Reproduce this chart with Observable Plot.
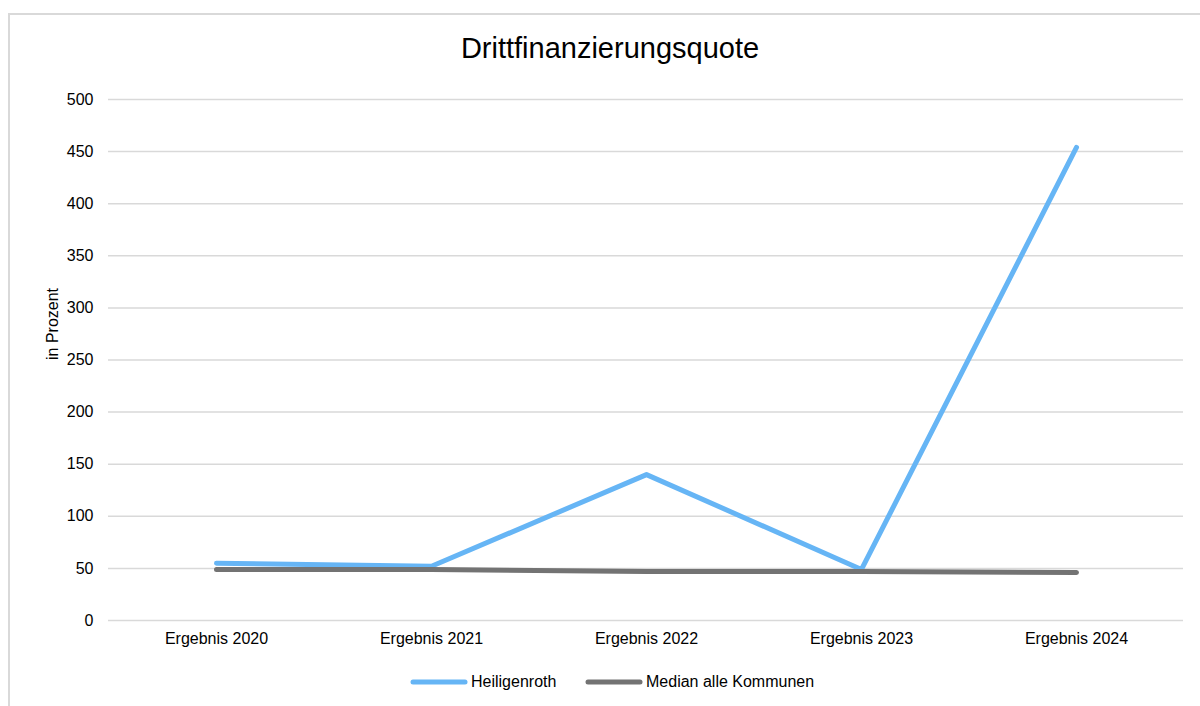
<!DOCTYPE html>
<html>
<head>
<meta charset="utf-8">
<script src="https://cdn.jsdelivr.net/npm/d3@7"></script>
<script src="https://cdn.jsdelivr.net/npm/@observablehq/plot@0.6"></script>
<style>
  html, body { margin: 0; padding: 0; background: #fff; width: 1200px; height: 706px; overflow: hidden; font-family: "Liberation Sans", Arial, sans-serif; }
  #frame { position: absolute; left: 8px; top: 13px; width: 1300px; height: 800px; border-top: 2px solid #d9d9d9; border-left: 2px solid #d9d9d9; }
  #title { position: absolute; left: 0; width: 1220px; top: 32px; text-align: center; font-size: 29px; color: #000; }
  #chart { position: absolute; left: 0; top: 80px; }
  .leg { position: absolute; top: 672px; height: 20px; display: flex; align-items: center; font-size: 16px; color: #000; }
  .leg svg { margin-right: 3px; }
</style>
</head>
<body>
<div id="frame"></div>
<div id="title">Drittfinanzierungsquote</div>
<div id="chart"></div>
<div class="leg" style="left:410px"><svg width="58" height="10"><line x1="3" y1="5" x2="55" y2="5" stroke="#66b5f5" stroke-width="5" stroke-linecap="round"/></svg>Heiligenroth</div>
<div class="leg" style="left:585px"><svg width="58" height="10"><line x1="3" y1="5" x2="55" y2="5" stroke="#737373" stroke-width="5" stroke-linecap="round"/></svg>Median alle Kommunen</div>
<script>
const categories = ["Ergebnis 2020", "Ergebnis 2021", "Ergebnis 2022", "Ergebnis 2023", "Ergebnis 2024"];
const heiligenroth = [55, 52, 140, 49, 454];
const median = [49, 49, 47, 47, 46];
const yTicks = [0, 50, 100, 150, 200, 250, 300, 350, 400, 450, 500];

const dataH = categories.map((c, i) => ({cat: c, v: heiligenroth[i]}));
const dataM = categories.map((c, i) => ({cat: c, v: median[i]}));

const chart = Plot.plot({
  width: 1200,
  height: 580,
  marginTop: 19,
  marginBottom: 40,
  marginLeft: 108,
  marginRight: 17,
  style: {fontFamily: "'Liberation Sans', Arial, sans-serif", fontSize: "16px", color: "#000", background: "transparent"},
  x: {type: "point", domain: categories, padding: 0.5, label: null, tickSize: 0, tickPadding: 12},
  y: {domain: [0, 500], ticks: yTicks, label: null, tickSize: 0, tickPadding: 15},
  marks: [
    Plot.gridY(yTicks, {stroke: "#d9d9d9", strokeOpacity: 1, strokeWidth: 1.5}),
    Plot.line(dataH, {x: "cat", y: "v", stroke: "#66b5f5", strokeWidth: 5, strokeLinecap: "round", strokeLinejoin: "round"}),
    Plot.line(dataM, {x: "cat", y: "v", stroke: "#737373", strokeWidth: 5, strokeLinecap: "round", strokeLinejoin: "round"}),
    Plot.text(["in Prozent"], {frameAnchor: "left", dx: -56, rotate: -90, fontSize: 16, fill: "#000"})
  ]
});
document.getElementById("chart").appendChild(chart);
</script>
</body>
</html>
